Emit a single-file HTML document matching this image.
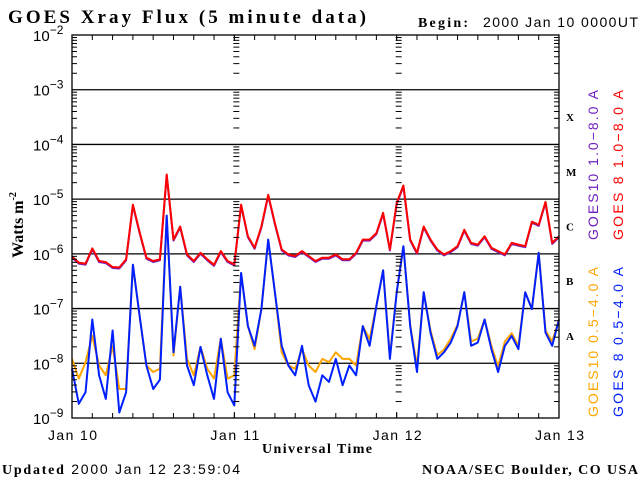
<!DOCTYPE html>
<html><head><meta charset="utf-8"><style>
html,body{margin:0;padding:0;background:#fff}
svg{display:block}
.s{font-family:"Liberation Sans",sans-serif}
.b{font-family:"Liberation Serif",serif;font-weight:bold}
</style></head><body>
<svg id="c" width="640" height="480" viewBox="0 0 640 480" xmlns="http://www.w3.org/2000/svg">
<rect width="640" height="480" fill="#fff"/>
<text x="8" y="23" class="b" font-size="19" textLength="358" lengthAdjust="spacing">GOES Xray Flux (5 minute data)</text>
<text x="418" y="27" class="b" font-size="14" textLength="50">Begin:</text>
<text x="483" y="27" class="s" font-size="14" textLength="155">2000 Jan 10 0000UT</text>
<text transform="translate(23,225) rotate(-90)" text-anchor="middle" class="b" font-size="16">Watts m<tspan font-size="10" dy="-7">-2</tspan></text>
<text x="262" y="453" class="b" font-size="14" textLength="110">Universal Time</text>
<text x="2" y="474" class="s" font-size="14" textLength="238"><tspan class="b">Updated</tspan> 2000 Jan 12 23:59:04</text>
<text x="422" y="474" class="b" font-size="14" textLength="216">NOAA/SEC Boulder, CO USA</text>
<g id="grid"></g>
<g id="series"></g>
<g id="axes"></g>
<text transform="translate(598,240) rotate(-90)" class="s" font-size="14" textLength="150" fill="#7020c0">GOES10 1.0−8.0 A</text>
<text transform="translate(623,240) rotate(-90)" class="s" font-size="14" textLength="150" fill="#ff0000">GOES 8 1.0−8.0 A</text>
<text transform="translate(598,417) rotate(-90)" class="s" font-size="14" textLength="150" fill="#ffa500">GOES10 0.5−4.0 A</text>
<text transform="translate(623,417) rotate(-90)" class="s" font-size="14" textLength="150" fill="#0020ff">GOES 8 0.5−4.0 A</text>
</svg>
<script>
const dayLabels=["Jan 10","Jan 11","Jan 12","Jan 13"];
const decadeExps=[-2,-3,-4,-5,-6,-7,-8,-9];
const classLabels=["X","M","C","B","A"];
const classLogs=[-3.5,-4.5,-5.5,-6.5,-7.5];
// hourly log10 flux values, hours 0..72
const longLog=[-6.05,-6.16,-6.18,-5.9,-6.13,-6.15,-6.24,-6.25,-6.1,-5.1,-5.6,-6.07,-6.13,-6.1,-4.55,-5.74,-5.5,-6.01,-6.13,-5.98,-6.1,-6.2,-5.95,-6.13,
-6.19,-5.1,-5.68,-5.89,-5.5,-4.92,-5.44,-5.92,-6.01,-6.04,-5.95,-6.04,-6.13,-6.07,-6.07,-6.01,-6.1,-6.1,-5.98,-5.74,-5.74,-5.62,-5.25,-5.92,
-5.07,-4.75,-5.74,-5.98,-5.5,-5.74,-5.92,-6.01,-5.95,-5.86,-5.56,-5.8,-5.83,-5.68,-5.89,-5.95,-6.01,-5.8,-5.83,-5.86,-5.41,-5.47,-5.05,-5.8,-5.68];
const shortLog8=[-8.1,-8.74,-8.53,-7.2,-8.22,-8.65,-7.4,-8.9,-8.53,-6.2,-7.13,-8.04,-8.47,-8.3,-5.3,-7.8,-6.6,-8.04,-8.4,-7.7,-8.22,-8.65,-7.55,-8.53,
-8.77,-6.35,-7.32,-7.68,-7.01,-5.74,-6.7,-7.68,-8.04,-8.22,-7.68,-8.4,-8.7,-8.22,-8.34,-7.92,-8.4,-8.04,-8.22,-7.32,-7.68,-6.95,-6.3,-7.92,
-6.7,-5.86,-7.32,-8.16,-6.7,-7.44,-7.92,-7.8,-7.62,-7.32,-6.7,-7.68,-7.62,-7.2,-7.74,-8.16,-7.68,-7.5,-7.74,-6.7,-7.01,-5.98,-7.44,-7.68,-7.2];
const shortLog10=[-7.92,-8.28,-7.98,-7.5,-8.04,-8.22,-7.68,-8.47,-8.47,-6.2,-7.13,-8.04,-8.16,-8.1,-5.3,-7.86,-6.6,-7.92,-8.22,-7.7,-8.1,-8.28,-7.55,-8.28,
-8.22,-6.35,-7.32,-7.74,-7.01,-5.74,-6.7,-7.8,-8.04,-8.1,-7.74,-8.04,-8.16,-7.92,-7.98,-7.8,-7.92,-7.92,-8.04,-7.32,-7.56,-6.95,-6.3,-7.86,
-6.7,-5.86,-7.3,-8.06,-6.7,-7.4,-7.85,-7.75,-7.55,-7.3,-6.7,-7.6,-7.55,-7.2,-7.68,-8.06,-7.6,-7.45,-7.68,-6.7,-7.0,-5.98,-7.4,-7.6,-7.2];
const NS="http://www.w3.org/2000/svg";
const X0=72,X1=559,Y0=35,Y1=418;
const xs=h=>X0+(X1-X0)*h/72;
const ys=l=>Y0+(-2-l)*(Y1-Y0)/7;
function mk(t,a,p){const e=document.createElementNS(NS,t);for(const k in a)e.setAttribute(k,a[k]);p.appendChild(e);return e;}
const grid=document.getElementById('grid'),axes=document.getElementById('axes'),ser=document.getElementById('series');
for(let d=-3;d>=-8;d--){
  const l=mk('line',{x1:X0,x2:X1,y1:ys(d),y2:ys(d),stroke:'#000','stroke-width':1.3},grid);
  
  
}
mk('rect',{x:X0,y:Y0,width:X1-X0,height:Y1-Y0,fill:'none',stroke:'#000','stroke-width':1.3},axes);
for(let d=-9;d<-2;d++){for(let m=2;m<10;m++){
  const y=ys(d+Math.log10(m));const L=5;
  mk('line',{x1:X0,x2:X0+L,y1:y,y2:y,stroke:'#000'},axes);
  mk('line',{x1:X1-L,x2:X1,y1:y,y2:y,stroke:'#000'},axes);
  for(let k=1;k<3;k++){const x=xs(24*k);mk('line',{x1:x-1,x2:x+5,y1:y,y2:y,stroke:'#000'},axes);}
}}
for(let k=1;k<3;k++){const x=xs(24*k);mk('line',{x1:x,x2:x,y1:Y0,y2:Y0+6,stroke:'#000'},axes);mk('line',{x1:x,x2:x,y1:Y1,y2:Y1-6,stroke:'#000'},axes);}
for(let h=3;h<72;h+=3){const x=xs(h);mk('line',{x1:x,x2:x,y1:Y1,y2:Y1-5,stroke:'#000'},axes);mk('line',{x1:x,x2:x,y1:Y0,y2:Y0+5,stroke:'#000'},axes);}
decadeExps.forEach(e=>{
  const t=mk('text',{x:33,y:ys(e)+6,'font-size':15,'class':'s'},axes);
  
  
  t.textContent='10';
  const s=mk('tspan',{'font-size':12,dy:-7},t);s.textContent=String(e).replace('-','−');
});
dayLabels.forEach((lab,i)=>{
  const t=mk('text',{x:xs(24*i)-24,y:440,'font-size':14,'class':'s',textLength:49},axes);
  
  
  t.textContent=lab;
});
classLabels.forEach((lab,i)=>{
  const t=mk('text',{x:566,y:ys(classLogs[i])+4,'font-size':11,'class':'b'},axes);
  
  
  t.textContent=lab;
});
function path(arr,col,name,dy){
  let d='';arr.forEach((v,i)=>{const x=xs(i),y=ys(v)+dy;d+=(i?'L':'M')+x.toFixed(1)+' '+y.toFixed(1);});
  const p=mk('path',{d:d,fill:'none',stroke:col,'stroke-width':2,'stroke-linejoin':'round'},ser);
  
  
}
path(longLog,'#7020c0','series-goes10-long',1);
path(longLog,'#ff0000','series-goes8-long',0);
path(shortLog10,'#ffa500','series-goes10-short',0);
path(shortLog8,'#0020ff','series-goes8-short',0);
</script>
</body></html>
